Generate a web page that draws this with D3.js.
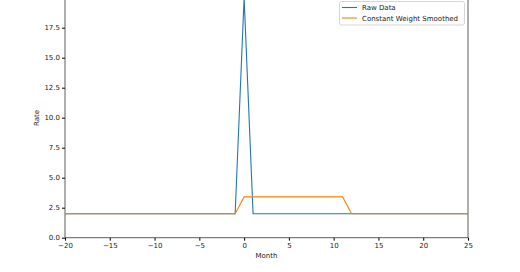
<!DOCTYPE html>
<html>
<head>
<meta charset="utf-8">
<script src="https://cdn.jsdelivr.net/npm/d3@7"></script>
<style>
  body { margin: 0; background: #fff; }
  text { font-family: "DejaVu Sans", sans-serif; fill: #222; }
</style>
</head>
<body>
<svg id="chart" width="520" height="272"></svg>
<script>
// months -20 .. 25
const months = d3.range(-20, 26)
const rawData = months.map(m => m === 0 ? 20 : 2)
// smoothed values
const smoothed = months.map(m => (m >= 0 && m <= 11) ? 3.4 : 2)
const xTicks = [-20, -15, -10, -5, 0, 5, 10, 15, 20, 25]
const yTicks = [0, 2.5, 5, 7.5, 10, 12.5, 15, 17.5, 20]
const seriesNames = ["Raw Data", "Constant Weight Smoothed"]
const colors = ["#1f77b4", "#ff7f0e"]

const svg = d3.select("#chart")
const plotLeft = 65, plotRight = 468, plotTop = -2.3, plotBottom = 237.7

const x = d3.scaleLinear().domain([-20, 25]).range([plotLeft, plotRight])
const y = d3.scaleLinear().domain([0, 20]).range([plotBottom, plotTop])

// axes
svg.append("g")
  .attr("transform", `translate(0,${plotBottom})`)
  .call(d3.axisBottom(x).tickValues(xTicks).tickSize(3).tickPadding(2)
    .tickFormat(d => d < 0 ? "\u2212" + Math.abs(d) : d))
svg.append("g")
  .attr("transform", `translate(${plotLeft},0)`)
  .call(d3.axisLeft(y).tickValues(yTicks).tickSize(3).tickPadding(2).tickFormat(d3.format(".1f")))

svg.selectAll(".tick text").style("font-size", "7px")
svg.selectAll(".domain").remove()

// spines
const spine = (x1, y1, x2, y2) => svg.append("line")
  .attr("x1", x1).attr("y1", y1).attr("x2", x2).attr("y2", y2)
  .attr("stroke", "#333").attr("stroke-width", 0.8)
spine(plotLeft, plotTop, plotLeft, plotBottom)
spine(plotRight, plotTop, plotRight, plotBottom)
spine(plotLeft, plotBottom, plotRight, plotBottom)

// lines
const line = d3.line().x((d, i) => x(months[i])).y(d => y(d))
svg.append("path").datum(rawData).attr("d", line)
  .attr("fill", "none").attr("stroke", colors[0]).attr("stroke-width", 1.1)
svg.append("path").datum(smoothed).attr("d", line)
  .attr("fill", "none").attr("stroke", colors[1]).attr("stroke-width", 1.1)

// axis labels
svg.append("text").attr("x", (plotLeft + plotRight) / 2).attr("y", 258)
  .attr("text-anchor", "middle").style("font-size", "7px").text("Month")
svg.append("text").attr("transform", `translate(39,118) rotate(-90)`)
  .attr("text-anchor", "middle").style("font-size", "7px").text("Rate")

// legend
const legend = svg.append("g")
legend.append("rect").attr("x", 339.5).attr("y", 1.5).attr("width", 125).attr("height", 23.5)
  .attr("rx", 2).attr("fill", "#fff").attr("fill-opacity", 0.8).attr("stroke", "#ccc").attr("stroke-width", 0.8)
seriesNames.forEach((name, i) => {
  const ly = 7.5 + i * 10.5
  legend.append("line").attr("x1", 342).attr("x2", 357).attr("y1", ly).attr("y2", ly)
    .attr("stroke", colors[i]).attr("stroke-width", 1.1)
  legend.append("text").attr("x", 362).attr("y", ly + 2.5)
    .style("font-size", "7px").text(name)
})
</script>
</body>
</html>
